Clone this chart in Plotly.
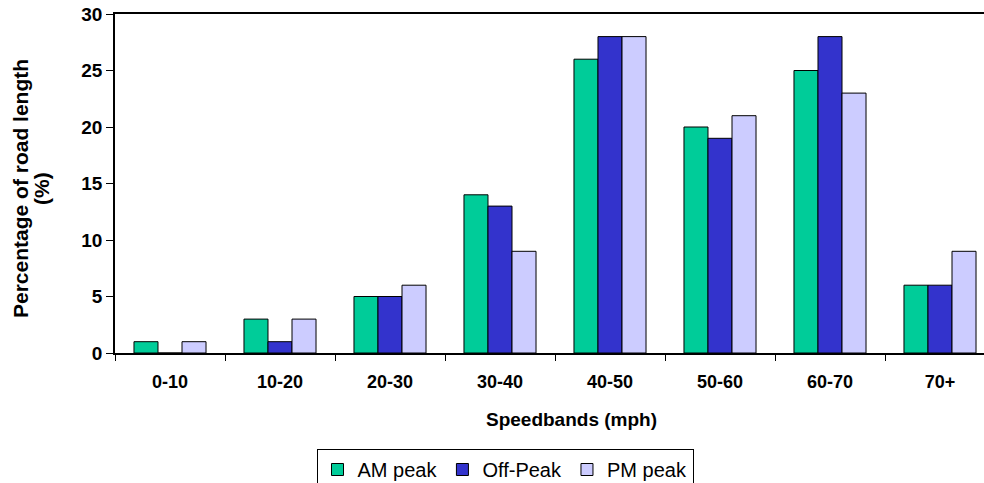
import plotly.graph_objects as go

categories = ["0-10", "10-20", "20-30", "30-40", "40-50", "50-60", "60-70", "70+"]
am_peak = [1, 3, 5, 14, 26, 20, 25, 6]
off_peak = [0, 1, 5, 13, 28, 19, 28, 6]
pm_peak = [1, 3, 6, 9, 28, 21, 23, 9]

series = [
    ("AM peak", am_peak, "#00CC99"),
    ("Off-Peak", off_peak, "#3333CC"),
    ("PM peak", pm_peak, "#CCCCFF"),
]

FONT = "Liberation Sans, Arial, sans-serif"
PH = 483 - 14 - 130  # plot height in px
PW = 984 - 115

fig = go.Figure()
for name, vals, col in series:
    fig.add_trace(go.Bar(
        x=categories, y=vals, name=name,
        marker=dict(color=col, line=dict(color="black", width=1)),
    ))

fig.update_layout(
    width=984, height=483,
    margin=dict(l=115, r=0, t=14, b=130, autoexpand=False),
    plot_bgcolor="white", paper_bgcolor="white",
    barmode="group", bargap=0.345, bargroupgap=0,
    font=dict(family=FONT, color="black"),
    showlegend=True,
    legend=dict(
        orientation="h", x=(505 - 115) / PW, xanchor="center",
        y=-(449 - 353) / PH, yanchor="top",
        bordercolor="black", borderwidth=1, font=dict(size=20, family=FONT),
        traceorder="normal", itemwidth=30, tracegroupgap=0,
    ),
    annotations=[
        dict(text="<b>Speedbands (mph)</b>", xref="paper", yref="paper",
             x=(571 - 115) / PW, y=-(419 - 353) / PH, xanchor="center", yanchor="middle",
             showarrow=False, font=dict(size=19, family=FONT)),
        dict(text="<b>Percentage of road length</b>", xref="paper", yref="paper",
             x=-(115 - 20) / PW, y=(353 - 189) / PH, xanchor="center", yanchor="middle",
             textangle=-90, showarrow=False, font=dict(size=21, family=FONT)),
        dict(text="<b>(%)</b>", xref="paper", yref="paper",
             x=-(115 - 41) / PW, y=(353 - 189) / PH, xanchor="center", yanchor="middle",
             textangle=-90, showarrow=False, font=dict(size=21, family=FONT)),
    ],
)
fig.update_xaxes(
    range=[-0.5, 7.4], showline=True, linecolor="black", linewidth=1.5, mirror=True,
    ticks="outside", ticklen=6, tickcolor="black", tickson="boundaries",
    tickfont=dict(size=18, family=FONT, weight="bold"), ticklabelstandoff=12,
    showgrid=False, automargin=False,
)
fig.update_yaxes(
    range=[0, 30], dtick=5, showline=True, linecolor="black", linewidth=1.5,
    ticks="outside", ticklen=7, tickcolor="black",
    tickfont=dict(size=19, family=FONT, weight="bold"),
    showgrid=False, zeroline=False, automargin=False,
)

fig.write_html(
    "out.html",
    config={"displayModeBar": False},
    post_script="document.body.style.margin='0';document.body.style.overflow='hidden';",
)
